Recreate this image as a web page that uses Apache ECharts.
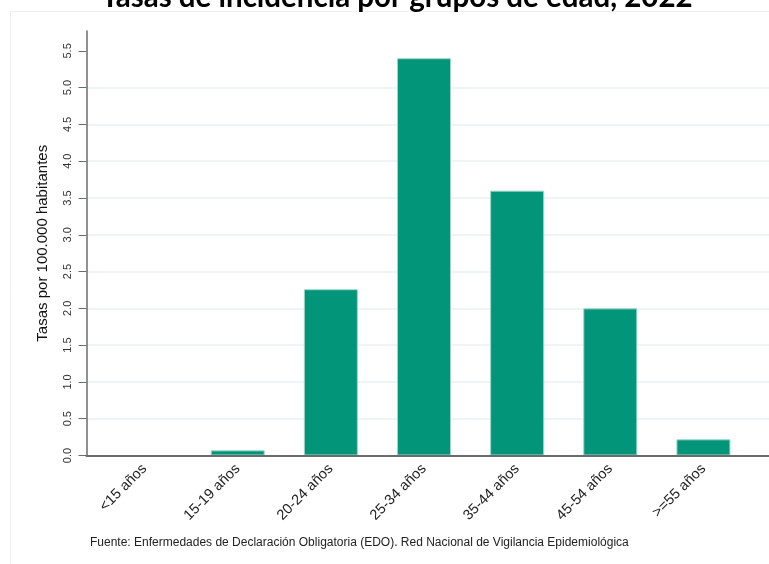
<!DOCTYPE html>
<html>
<head>
<meta charset="utf-8">
<script src="https://cdn.jsdelivr.net/npm/echarts@6/dist/echarts.min.js"></script>
<style>
html,body{margin:0;padding:0;background:#fff;}
#chart{width:769px;height:564px;}
</style>
</head>
<body>
<div id="chart"></div>
<script>
var categories = ['<15 años','15-19 años','20-24 años','25-34 años','35-44 años','45-54 años','>=55 años'];
var rates = [0, 0.07, 2.26, 5.40, 3.60, 2.00, 0.22];
var yTicks = [0, 0.5, 1, 1.5, 2, 2.5, 3, 3.5, 4, 4.5, 5, 5.5];
var titleText = 'Tasas de incidencia por grupos de edad, 2022';
var yName = 'Tasas por 100.000 habitantes';
var sourceText = 'Fuente: Enfermedades de Declaración Obligatoria (EDO). Red Nacional de Vigilancia Epidemiológica';

var yMax = 5.77;
var chart = echarts.init(document.getElementById('chart'), null, {renderer:'canvas'});
chart.setOption({
  animation: false,
  backgroundColor: '#fff',
  graphic: [
    {type:'rect', shape:{x:10.5, y:11.5, width:770, height:560}, style:{fill:'none', stroke:'#eef1f1', lineWidth:1}, z:-10},
    {type:'text', style:{text:titleText, x:397, y:12, textAlign:'center', textVerticalAlign:'bottom', font:'bold 29.5px Lato', fill:'#000'}},
    {type:'text', style:{text:sourceText, x:90, y:543, textAlign:'left', textVerticalAlign:'middle', font:'12px "Liberation Sans"', fill:'#222'}}
  ],
  grid: [
    {left:86.5, right:0, top:31, bottom:108.5},
    {left:98, right:19, top:31, bottom:108.5}
  ],
  xAxis: [
    {gridIndex:0, type:'value', min:0, max:1, z:10, axisLine:{show:true, onZero:false, lineStyle:{color:'#6b6b6b', width:2}}, axisTick:{show:false}, axisLabel:{show:false}, splitLine:{show:false}},
    {gridIndex:1, type:'category', data:categories, axisLine:{show:false}, axisTick:{show:false},
     axisLabel:{rotate:45, interval:0, margin:11, fontFamily:'Liberation Sans', fontSize:14.5, color:'#222'}}
  ],
  yAxis: [
    {gridIndex:0, type:'value', min:0, max:yMax,
     name:yName, nameLocation:'middle', nameGap:36, nameTextStyle:{fontFamily:'Liberation Sans', fontSize:15, color:'#111'},
     axisLine:{show:true, lineStyle:{color:'#6b6b6b', width:1.5}},
     axisTick:{show:true, length:8, customValues:yTicks, lineStyle:{color:'#6b6b6b', width:1}},
     axisLabel:{rotate:90, margin:13, customValues:yTicks, fontFamily:'Liberation Sans', fontSize:11, color:'#333',
       formatter:function(v){return v.toFixed(1);}},
     splitLine:{show:true, showMaxLine:false, showMinLine:false, lineStyle:{color:'#eaf2f1', width:1.5}}},
    {gridIndex:1, type:'value', min:0, max:yMax, show:false, splitLine:{show:false}}
  ],
  series: [{
    type:'bar', xAxisIndex:1, yAxisIndex:1, data:rates, barCategoryGap:'42%',
    itemStyle:{color:'#039579', borderColor:'#9dd6c7', borderWidth:1}
  }]
});
</script>
</body>
</html>
